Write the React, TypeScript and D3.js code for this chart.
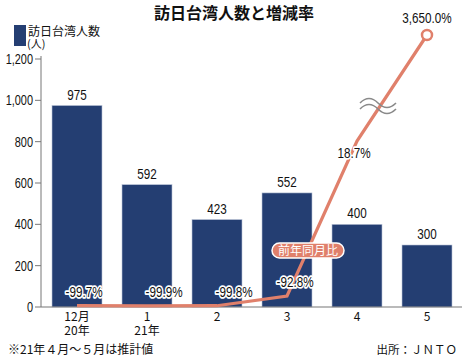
import React from "react";
import * as d3 from "d3";

const categories = ["12月|20年", "1|21年", "2", "3", "4", "5"];
const visitors = [975, 592, 423, 552, 400, 300];
const changeRates = [-99.7, -99.9, -99.8, -92.8, 18.7, 3650.0];
const yTicks = [0, 200, 400, 600, 800, 1000, 1200];

// label layout offsets (dx, dy) relative to point
const rateLabelOffsets: [number, number][] = [
  [7, -9],
  [17, -9],
  [17, -9],
  [8, -9],
  [-3, 17],
  [0, -12],
];

const W = 465;
const H = 359;
const NAVY = "#243e72";
const SALMON = "#e0806b";
const NUM_FONT = "'Liberation Sans', Arial, sans-serif";
const JP_FONT = "'Noto Sans CJK JP', 'Noto Sans', sans-serif";

function NText(props: {
  x: number;
  y: number;
  anchor?: "start" | "middle" | "end";
  size?: number;
  halo?: boolean;
  children: React.ReactNode;
}) {
  const { x, y, anchor = "middle", size = 15, halo = false, children } = props;
  return (
    <text
      transform={`translate(${x},${y}) scale(0.78,1)`}
      textAnchor={anchor}
      fontFamily={NUM_FONT}
      fontSize={size}
      fill="#111"
      stroke={halo ? "#fff" : "none"}
      strokeWidth={halo ? 3.5 : 0}
      paintOrder="stroke"
      strokeLinejoin="round"
    >
      {children}
    </text>
  );
}

export default function App() {
  const x = d3
    .scaleBand<string>()
    .domain(categories)
    .range([42, 462])
    .paddingInner(20 / 70)
    .paddingOuter(10 / 70);
  const y = d3.scaleLinear().domain([0, 1200]).range([307, 59]);
  const yRate = d3.scaleLinear().domain([-100, 50, 3650]).range([306, 97.5, 35]);

  const pts: [number, number][] = changeRates.map((r, i) => [
    (x(categories[i]) as number) + x.bandwidth() / 2,
    yRate(r),
  ]);
  const line = d3.line<[number, number]>()(pts) as string;
  const fmtRate = (v: number) => d3.format(",.1f")(v).replace("−", "-") + "%";
  const last = pts[pts.length - 1];

  const wave = (y0: number) => {
    const x0 = 360;
    const w = 36;
    return `M${x0},${y0} C${x0 + 6},${y0 - 6} ${x0 + 12},${y0 - 6} ${x0 + 18},${y0} S${x0 + 30},${y0 + 6} ${x0 + w},${y0}`;
  };

  return (
    <svg width={W} height={H} style={{ position: "absolute", left: 0, top: 0, background: "#fff" }}>
      <rect width={W} height={H} fill="#fff" />
      <text x={234} y={19} textAnchor="middle" fontFamily={JP_FONT} fontWeight="bold" fontSize={16} fill="#111">
        訪日台湾人数と増減率
      </text>
      {/* legend */}
      <rect x={14} y={25} width={12} height={21} fill={NAVY} />
      <text x={28} y={36} fontFamily={JP_FONT} fontSize={12} fill="#111">訪日台湾人数</text>
      <text x={27} y={48} fontFamily={JP_FONT} fontSize={11} fill="#111">(人)</text>

      {/* y axis */}
      <line x1={41} x2={41} y1={56} y2={307} stroke="#777" strokeWidth={1} />
      {yTicks.map((t) => (
        <g key={t}>
          <line x1={35} x2={41} y1={y(t)} y2={y(t)} stroke="#777" />
          <NText x={33} y={y(t) + 5} anchor="end" size={14}>
            {d3.format(",")(t)}
          </NText>
        </g>
      ))}

      {/* bars */}
      {visitors.map((v, i) => {
        const bx = x(categories[i]) as number;
        return (
          <g key={i}>
            <rect x={bx} y={y(v)} width={x.bandwidth()} height={y(0) - y(v)} fill={NAVY} stroke="#b9c3d6" strokeWidth={0.6} />
            <NText x={bx + x.bandwidth() / 2} y={y(v) - 6} size={15}>
              {v}
            </NText>
          </g>
        );
      })}

      {/* baseline */}
      <line x1={41} x2={462} y1={307} y2={307} stroke="#777" strokeWidth={1.2} />

      {/* x labels */}
      {categories.map((c) => {
        const parts = c.split("|");
        const cx = (x(c) as number) + x.bandwidth() / 2;
        return parts.map((p, j) => (
          <text key={c + j} x={cx} y={321 + j * 14} textAnchor="middle" fontFamily={JP_FONT} fontSize={12} fill="#111">
            {p}
          </text>
        ));
      })}

      {/* line */}
      <path d={line} fill="none" stroke={SALMON} strokeWidth={3.2} strokeLinejoin="miter" />
      <circle cx={last[0]} cy={last[1]} r={5} fill="#fff" stroke={SALMON} strokeWidth={2.5} />

      {/* break symbol */}
      <path d={wave(103)} fill="none" stroke="#8a8a8a" strokeWidth={1.6} />
      <path d={wave(109)} fill="none" stroke="#8a8a8a" strokeWidth={1.6} />

      {/* rate labels */}
      {changeRates.map((r, i) => {
        const [dx, dy] = rateLabelOffsets[i];
        return (
          <NText key={i} x={pts[i][0] + dx} y={pts[i][1] + dy} size={15} halo={i < 5}>
            {fmtRate(r)}
          </NText>
        );
      })}

      {/* badge */}
      <rect x={272} y={243} width={72} height={15} rx={7.5} fill={SALMON} stroke="#fff" strokeWidth={1.5} />
      <text x={308} y={255} textAnchor="middle" fontFamily={JP_FONT} fontSize={12} fill="#fff">前年同月比</text>

      {/* footnotes */}
      <text x={8} y={354} fontFamily={JP_FONT} fontSize={12} fill="#111">※21年４月～５月は推計値</text>
      <text x={457} y={354} textAnchor="end" fontFamily={JP_FONT} fontSize={11.5} fill="#111">出所：ＪＮＴＯ</text>
    </svg>
  );
}
